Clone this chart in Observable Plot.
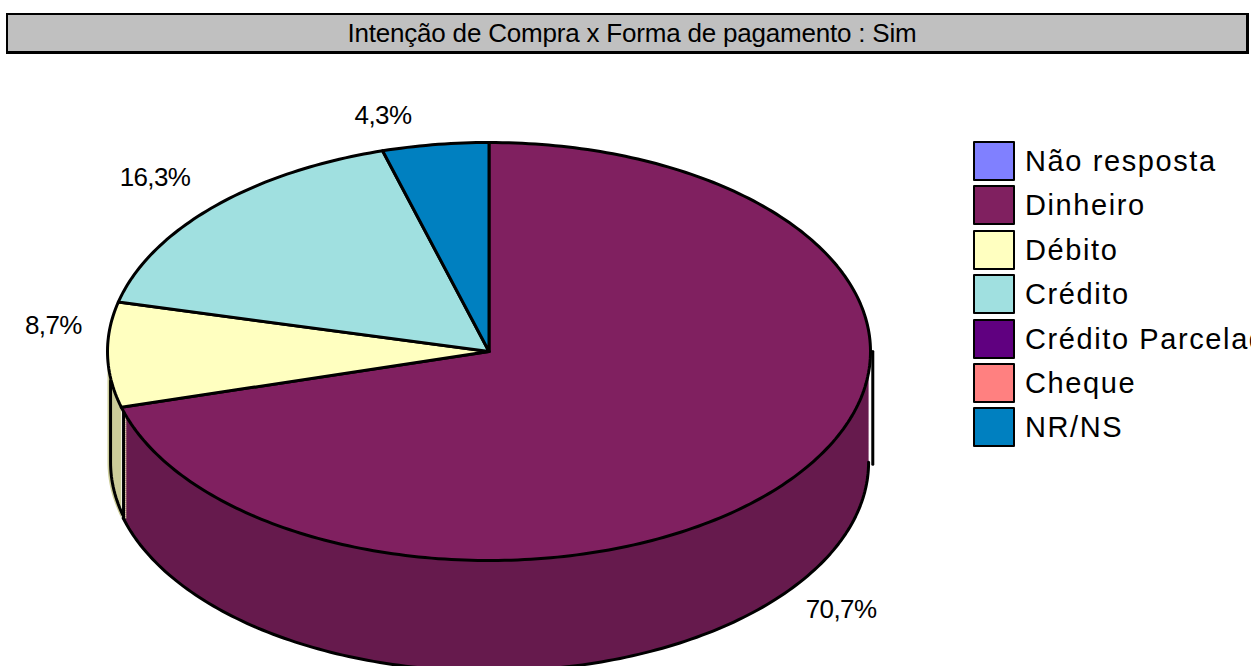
<!DOCTYPE html>
<html lang="pt">
<head>
<meta charset="utf-8">
<script src="https://cdn.jsdelivr.net/npm/d3@7"></script>
<script src="https://cdn.jsdelivr.net/npm/@observablehq/plot@0.6"></script>
<style>
  html, body { margin: 0; padding: 0; width: 1256px; height: 666px; overflow: hidden; background: #fff; }
  body { position: relative; font-family: "Liberation Sans", Arial, sans-serif; color: #000; }
  #title { position: absolute; left: 6px; top: 13px; width: 1228px; padding-left: 10px; height: 36px; background: #c0c0c0;
    border-style: solid; border-color: #000; border-width: 2px 3px 3px 2px; text-align: center;
    font-size: 26px; line-height: 37px; letter-spacing: -0.2px; white-space: nowrap; }
  #chart { position: absolute; left: 0; top: 56px; }
  #chart text { letter-spacing: -0.6px; }
  #legend { position: absolute; left: 973px; top: 141px; width: 278px; overflow: hidden; }
  .row { height: 44.4px; display: flex; white-space: nowrap; }
  .sw { flex: none; width: 38px; height: 36px; border: 2px solid #000; border-radius: 1px; }
  .lab { margin-left: 10px; font-size: 29px; line-height: 40px; letter-spacing: 1.6px; }
</style>
</head>
<body>
<div id="title"></div>
<div id="chart"></div>
<div id="legend"></div>
<script>
const chartTitle = "Intenção de Compra x Forma de pagamento : Sim";
const categories = ["Não resposta", "Dinheiro", "Débito", "Crédito", "Crédito Parcelado", "Cheque", "NR/NS"];
// percentages as printed on the chart
const printedLabels = ["0,0%", "70,7%", "8,7%", "16,3%", "0,0%", "0,0%", "4,3%"];
// slice shares as read from the drawn wedge edges
const percents = [0, 70.7, 8.1, 16.7, 0, 0, 4.5];
const colors = ["#8080ff", "#802060", "#ffffc0", "#a0e0e0", "#600080", "#ff8080", "#0080c0"];

const depth = 0.53;
const total = d3.sum(percents);
let running = 0;
const slices = categories.map((name, i) => {
  const a0 = running / total * 360;
  running += percents[i];
  return {name, value: percents[i], label: printedLabels[i], a0, a1: running / total * 360, color: colors[i]};
}).filter(s => s.value > 0);

const rad = a => a * Math.PI / 180;
const pt = (a, drop = 0, k = 1) => ({x: k * Math.sin(rad(a)), y: Math.cos(rad(a)) - drop});
const arc = (a0, a1, drop = 0, k = 1) => {
  const n = Math.max(2, Math.ceil(Math.abs(a1 - a0)));
  return d3.range(n + 1).map(i => pt(a0 + (a1 - a0) * i / n, drop, k));
};

// pie faces, walls of the visible front half, and their outlines
const tops = slices.flatMap(s => [{x: 0, y: 0}, ...arc(s.a0, s.a1), {x: 0, y: 0}].map(p => ({...p, name: s.name})));
const walls = slices.flatMap(s => {
  const a0 = Math.max(s.a0, 90), a1 = Math.min(s.a1, 270);
  if (a1 <= a0) return [];
  const k = a0 < 180 ? 0.995 : 1;
  return [...arc(a0, a1, 0, k), ...arc(a1, a0, depth, k)].map(p => ({...p, name: s.name, fill: d3.rgb(s.color).darker(0.63).formatHex()}));
});
const main = slices[0], side = slices[1];
const lowerEdge = arc(90, main.a1, depth, 0.995);
const sideEdge = [pt(270, 0.14, 0.992), pt(270, depth - 0.02, 0.992), ...arc(270, main.a1, depth, 0.992)];
const seam = [pt(main.a1, 0, 0.994), pt(main.a1, depth, 0.994)];
const seamLight = [pt(main.a1, 0, 0.988), pt(main.a1, depth, 0.988)];
const rightRule = [{x: 1.006, y: 0}, {x: 1.006, y: -0.54}];

// percent labels sit outside the slice's mid-angle point
const labelGap = {x: 0.145, y: 0.12};
const labelNudgeX = [-0.018, 0.003, -0.008, 0.008];
const labels = slices.map((s, i) => {
  const m = (s.a0 + s.a1) / 2, front = Math.cos(rad(m)) < -0.2;
  const p = pt(m, front ? depth : 0);
  return {
    x: p.x + Math.sign(Math.sin(rad(m))) * labelGap.x + labelNudgeX[i],
    y: p.y + (front ? -1 : 1) * labelGap.y,
    text: s.label
  };
});

const plot = Plot.plot({
  width: 1256, height: 610,
  margin: 0,
  x: {domain: [-1, 1], range: [107, 870], axis: null},
  y: {domain: [-1, 1], range: [504, 86], axis: null},
  color: {domain: categories, range: colors},
  style: {overflow: "hidden", background: "#fff"},
  marks: [
    Plot.line(walls, {x: "x", y: "y", z: "name", fill: d => d.fill, stroke: null}),
    Plot.line(lowerEdge, {x: "x", y: "y", stroke: "#000", strokeWidth: 3}),
    Plot.line(sideEdge, {x: "x", y: "y", stroke: "#000", strokeWidth: 3}),
    Plot.line(seam, {x: "x", y: "y", stroke: "#000", strokeWidth: 3}),
    Plot.line(seamLight, {x: "x", y: "y", stroke: side.color, strokeWidth: 1, strokeDasharray: "1,1"}),
    Plot.line(rightRule, {x: "x", y: "y", stroke: "#000", strokeWidth: 3}),
    Plot.line(tops, {x: "x", y: "y", z: "name", fill: "name", stroke: "#000", strokeWidth: 3, strokeLinejoin: "round"}),
    Plot.text(labels, {x: "x", y: "y", dy: -4, text: "text", fontFamily: "Liberation Sans", fontSize: 26, fill: "#000"})
  ]
});
document.getElementById("chart").append(plot);
document.getElementById("title").textContent = chartTitle;
document.getElementById("legend").innerHTML = categories.map((c, i) =>
  `<div class="row"><div class="sw" style="background:${colors[i]}"></div><div class="lab">${c}</div></div>`).join("");
</script>
</body>
</html>
